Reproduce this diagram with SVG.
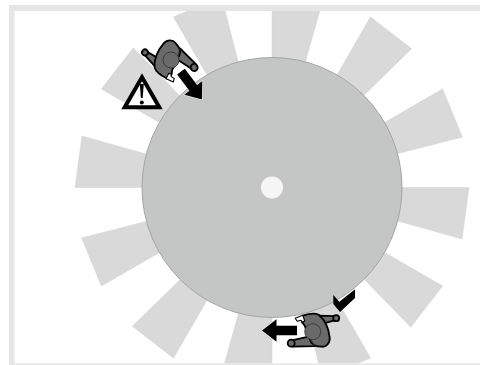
<svg xmlns="http://www.w3.org/2000/svg" xmlns:xlink="http://www.w3.org/1999/xlink" width="480" height="365" viewBox="0 0 480 365">
<style>
.blade{fill:#d9d9d9;stroke:#d2d2d2;stroke-width:.5}
.frame{fill:#e5e5e5}
.body{fill:#6a6a6a;stroke:#000;stroke-width:1.800;stroke-linejoin:round}
.thin{fill:#6a6a6a;stroke:#333;stroke-width:.8}
.arrow{fill:#000;stroke:#fff;stroke-width:1;stroke-linejoin:miter;paint-order:stroke}
</style>
<defs>
<clipPath id="c"><rect x="14" y="5" width="466" height="358.500"/></clipPath>
<polygon id="b" class="blade" points="402,187.500 469,187.500 462,239 398,221"/>
<polygon id="a" class="arrow" points="0,0 14.500,-11.300 14.500,-4.800 35,-4.800 35,4.800 14.500,4.800 14.500,11.300"/>
<g id="p">
<path class="body" d="M0,-8 L6,-16 L23,-15.500 L23,-11.500 L10,-8 Z"/>
<circle class="body" cx="23.500" cy="-13.500" r="3"/>
<path class="body" d="M-4,5 L-20,8.500 L-24,11.500 L-20,15 L2,14.500 L8,8 Z"/>
<circle class="body" cx="-21.500" cy="11.500" r="3.500"/>
<path class="body" d="M-10,-16 C-4,-18 2,-19 6,-17 C12,-12 16,-4 17,6 C17.500,12 13,15.500 9,15 C4,15 0,14 -2,10 L-8,-6 L-11,-10 Z"/>
<path style="fill:none;stroke:#333;stroke-width:.8" d="M-2,8 L2,14"/>
<circle class="thin" cx="0" cy="0" r="8"/>
<path d="M-17.500,-13.500 L-10,-16.500 L-8,-11 L-10,-9.500 L-12,-11.500 L-15.500,-10.500 Z" fill="#fff" stroke="#000" stroke-width="1.100" stroke-linejoin="round"/>
</g>
</defs>
<g id="blades" clip-path="url(#c)">
<use xlink:href="#b"/>
<use xlink:href="#b" transform="rotate(30 272 187.500)"/>
<use xlink:href="#b" transform="rotate(60 272 187.500)"/>
<use xlink:href="#b" transform="rotate(90 272 187.500)"/>
<use xlink:href="#b" transform="rotate(120 272 187.500)"/>
<use xlink:href="#b" transform="rotate(150 272 187.500)"/>
<use xlink:href="#b" transform="rotate(180 272 187.500)"/>
<use xlink:href="#b" transform="rotate(210 272 187.500)"/>
<use xlink:href="#b" transform="rotate(240 272 187.500)"/>
<use xlink:href="#b" transform="rotate(270 272 187.500)"/>
<use xlink:href="#b" transform="rotate(300 272 187.500)"/>
<use xlink:href="#b" transform="rotate(330 272 187.500)"/>
</g>
<g id="frame"><rect class="frame" x="9" y="5" width="471" height="6"/><rect class="frame" x="9" y="5" width="5.500" height="360"/><rect class="frame" x="9" y="363.500" width="471" height="1.500"/></g>
<g id="disk"><circle cx="272" cy="187.500" r="130" fill="#c4c6c5" stroke="#a3a5a4" stroke-width="1"/><circle cx="272" cy="187.500" r="11" fill="#f5f5f5"/></g>
<g id="warning">
<polygon points="142,77.300 124.700,107.300 159.300,107.300" fill="#fff" stroke="#000" stroke-width="4" stroke-linejoin="miter"/>
<path d="M139.800,84 L143.800,84 L142.700,98 L140.900,98 Z" fill="#000"/><circle cx="141.800" cy="102.500" r="2"/>
</g>
<g id="operator-1"><use xlink:href="#p" transform="translate(171 60) rotate(226)"/></g>
<g id="arrow-1"><use xlink:href="#a" transform="translate(202 99.500) rotate(233)"/></g>
<g id="operator-2"><use xlink:href="#p" transform="translate(312.700 331.700)"/></g>
<g id="arrow-2"><use xlink:href="#a" transform="translate(262 330.500)"/></g>
<g id="check"><polygon points="333.300,295 339.300,301.700 355,289.300 355,298 340,312 333.300,304" fill="#000"/></g>
</svg>
